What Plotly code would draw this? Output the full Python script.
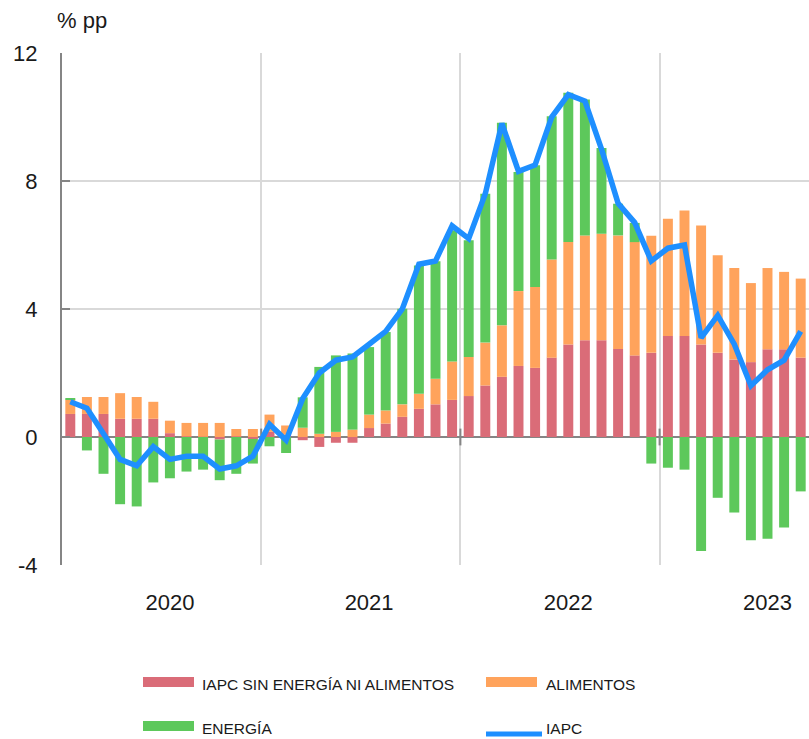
import pandas as pd
import plotly.graph_objects as go

# Monthly contributions to HICP inflation (percentage points), Jan 2020 - Sep 2023
months = pd.date_range("2020-01-01", "2023-09-01", freq="MS")

core = [0.72, 0.72, 0.72, 0.57, 0.57, 0.57, 0.12, 0.02, 0.01, -0.08, 0.02, -0.06,
        0.16, 0.08, -0.10, -0.31, -0.18, -0.18, 0.28, 0.42, 0.63, 0.88, 1.02, 1.16,
        1.28, 1.61, 1.88, 2.22, 2.16, 2.48, 2.89, 3.02, 3.02, 2.75, 2.55, 2.63,
        3.16, 3.16, 2.89, 2.63, 2.42, 2.34, 2.74, 2.74, 2.48]

food = [0.45, 0.53, 0.53, 0.80, 0.68, 0.53, 0.39, 0.42, 0.43, 0.44, 0.23, 0.25,
        0.54, 0.28, 0.29, 0.10, 0.16, 0.23, 0.42, 0.41, 0.39, 0.47, 0.80, 1.20,
        1.22, 1.34, 1.61, 2.34, 2.53, 3.07, 3.20, 3.28, 3.33, 3.55, 3.54, 3.66,
        3.66, 3.92, 3.72, 3.05, 2.86, 2.47, 2.54, 2.42, 2.47]

energy = [0.02, -0.42, -1.15, -2.10, -2.17, -1.42, -1.29, -1.08, -1.02, -1.27, -1.15, -0.77,
          -0.29, -0.50, 0.95, 2.09, 2.39, 2.38, 2.11, 2.45, 2.99, 4.01, 3.67, 4.10,
          3.65, 4.65, 6.33, 3.72, 3.80, 4.47, 4.67, 4.25, 2.68, 0.99, 0.60, -0.83,
          -0.96, -1.02, -3.56, -1.90, -2.36, -3.23, -3.18, -2.83, -1.70]

hicp = [1.1, 0.9, 0.1, -0.7, -0.9, -0.3, -0.7, -0.6, -0.6, -1.0, -0.9, -0.6,
        0.4, -0.1, 1.2, 2.0, 2.4, 2.5, 2.9, 3.3, 4.0, 5.4, 5.5, 6.6,
        6.2, 7.6, 9.8, 8.3, 8.5, 10.0, 10.7, 10.5, 9.0, 7.3, 6.7, 5.5,
        5.9, 6.0, 3.1, 3.8, 2.9, 1.6, 2.1, 2.4, 3.3]

series_names = ["IAPC SIN ENERGÍA NI ALIMENTOS", "ALIMENTOS", "ENERGÍA", "IAPC"]
colors = ["#DA6C78", "#FFA35C", "#5DC85B", "#1E8FFF"]
y_ticks = [-4, 0, 4, 8, 12]
y_tick_text = ["-4", "0", "4", "8", "12"]

x = list(range(len(months)))
year_label_pos = [i for i, m in enumerate(months) if m.month == 7]
year_label_text = [str(months[i].year) for i in year_label_pos]
year_bounds = [i - 0.5 for i, m in enumerate(months) if m.month == 1 and i > 0]

AXIS_GREY = "#858585"
GRID_GREY = "#d9d9d9"
TICK_FONT = dict(family="Liberation Sans, Arial, sans-serif", size=22, color="#1a1a1a")
LEGEND_FONT = dict(family="Liberation Sans, Arial, sans-serif", size=15.5, color="#1a1a1a")

W, H = 809, 739
L, R, T, B = 62, 0, 53, 174


def px_x(p):
    return (p - L) / (W - L - R)


def px_y(p):
    return (H - B - p) / (H - T - B)


fig = go.Figure()
for vals, name, col in zip([core, food, energy], series_names[:3], colors[:3]):
    fig.add_trace(go.Bar(x=x, y=vals, name=name, marker_color=col,
                         marker_line_width=0, showlegend=False))

# small tick marks where years change, on the zero line
fig.add_trace(go.Scatter(x=year_bounds, y=[0] * len(year_bounds), mode="markers",
                         marker=dict(symbol="line-ns-open", size=12, color=AXIS_GREY,
                                     line=dict(width=2, color=AXIS_GREY)),
                         showlegend=False, hoverinfo="skip"))

fig.add_trace(go.Scatter(x=x, y=hicp, name=series_names[3], mode="lines",
                         line=dict(color=colors[3], width=5.5), showlegend=False))

# legend built from swatches and labels below the plot
legend_items = [
    (series_names[0], colors[0], "rect", 143, 682, 200, 684),
    (series_names[1], colors[1], "rect", 486, 682, 544, 684),
    (series_names[2], colors[2], "rect", 143, 726, 200, 728),
    (series_names[3], colors[3], "line", 486, 734, 544, 728),
]
shapes = []
annotations = []
for name, col, kind, sx, sy, tx, ty in legend_items:
    if kind == "rect":
        shapes.append(dict(type="rect", xref="paper", yref="paper",
                           x0=px_x(sx), x1=px_x(sx + 51), y0=px_y(sy - 5), y1=px_y(sy + 5),
                           fillcolor=col, line=dict(width=0)))
    else:
        shapes.append(dict(type="line", xref="paper", yref="paper",
                           x0=px_x(sx), x1=px_x(sx + 56), y0=px_y(sy), y1=px_y(sy),
                           line=dict(color=col, width=5)))
    annotations.append(dict(text=name, xref="paper", yref="paper", x=px_x(tx), y=px_y(ty),
                            xanchor="left", yanchor="middle", showarrow=False,
                            font=LEGEND_FONT))

annotations.append(dict(text="% pp", xref="paper", yref="paper", x=px_x(55), y=px_y(20),
                        xanchor="left", yanchor="middle", showarrow=False, font=TICK_FONT))

fig.update_layout(
    width=W, height=H,
    margin=dict(l=L, r=R, t=T, b=B, pad=0),
    paper_bgcolor="white", plot_bgcolor="white",
    barmode="relative", bargap=0.4,
    shapes=shapes, annotations=annotations,
    showlegend=False,
    xaxis=dict(range=[-0.5, len(months) - 0.5], tickmode="array",
               tickvals=year_label_pos, ticktext=year_label_text,
               ticks="", showgrid=False, zeroline=False, showline=False,
               tickfont=TICK_FONT, ticklabelstandoff=22,
               minor=dict(tickmode="array", tickvals=year_bounds, showgrid=True,
                          gridcolor=GRID_GREY, gridwidth=2, ticks="")),
    yaxis=dict(range=[-4, 12], tickmode="array", tickvals=y_ticks, ticktext=y_tick_text,
               ticks="inside", ticklen=8, tickwidth=2, tickcolor=AXIS_GREY,
               showline=True, linecolor=AXIS_GREY, linewidth=2,
               showgrid=True, gridcolor=GRID_GREY, gridwidth=2,
               zeroline=True, zerolinecolor=AXIS_GREY, zerolinewidth=2,
               tickfont=TICK_FONT, ticklabelstandoff=18),
)

fig.write_html("out.html")
